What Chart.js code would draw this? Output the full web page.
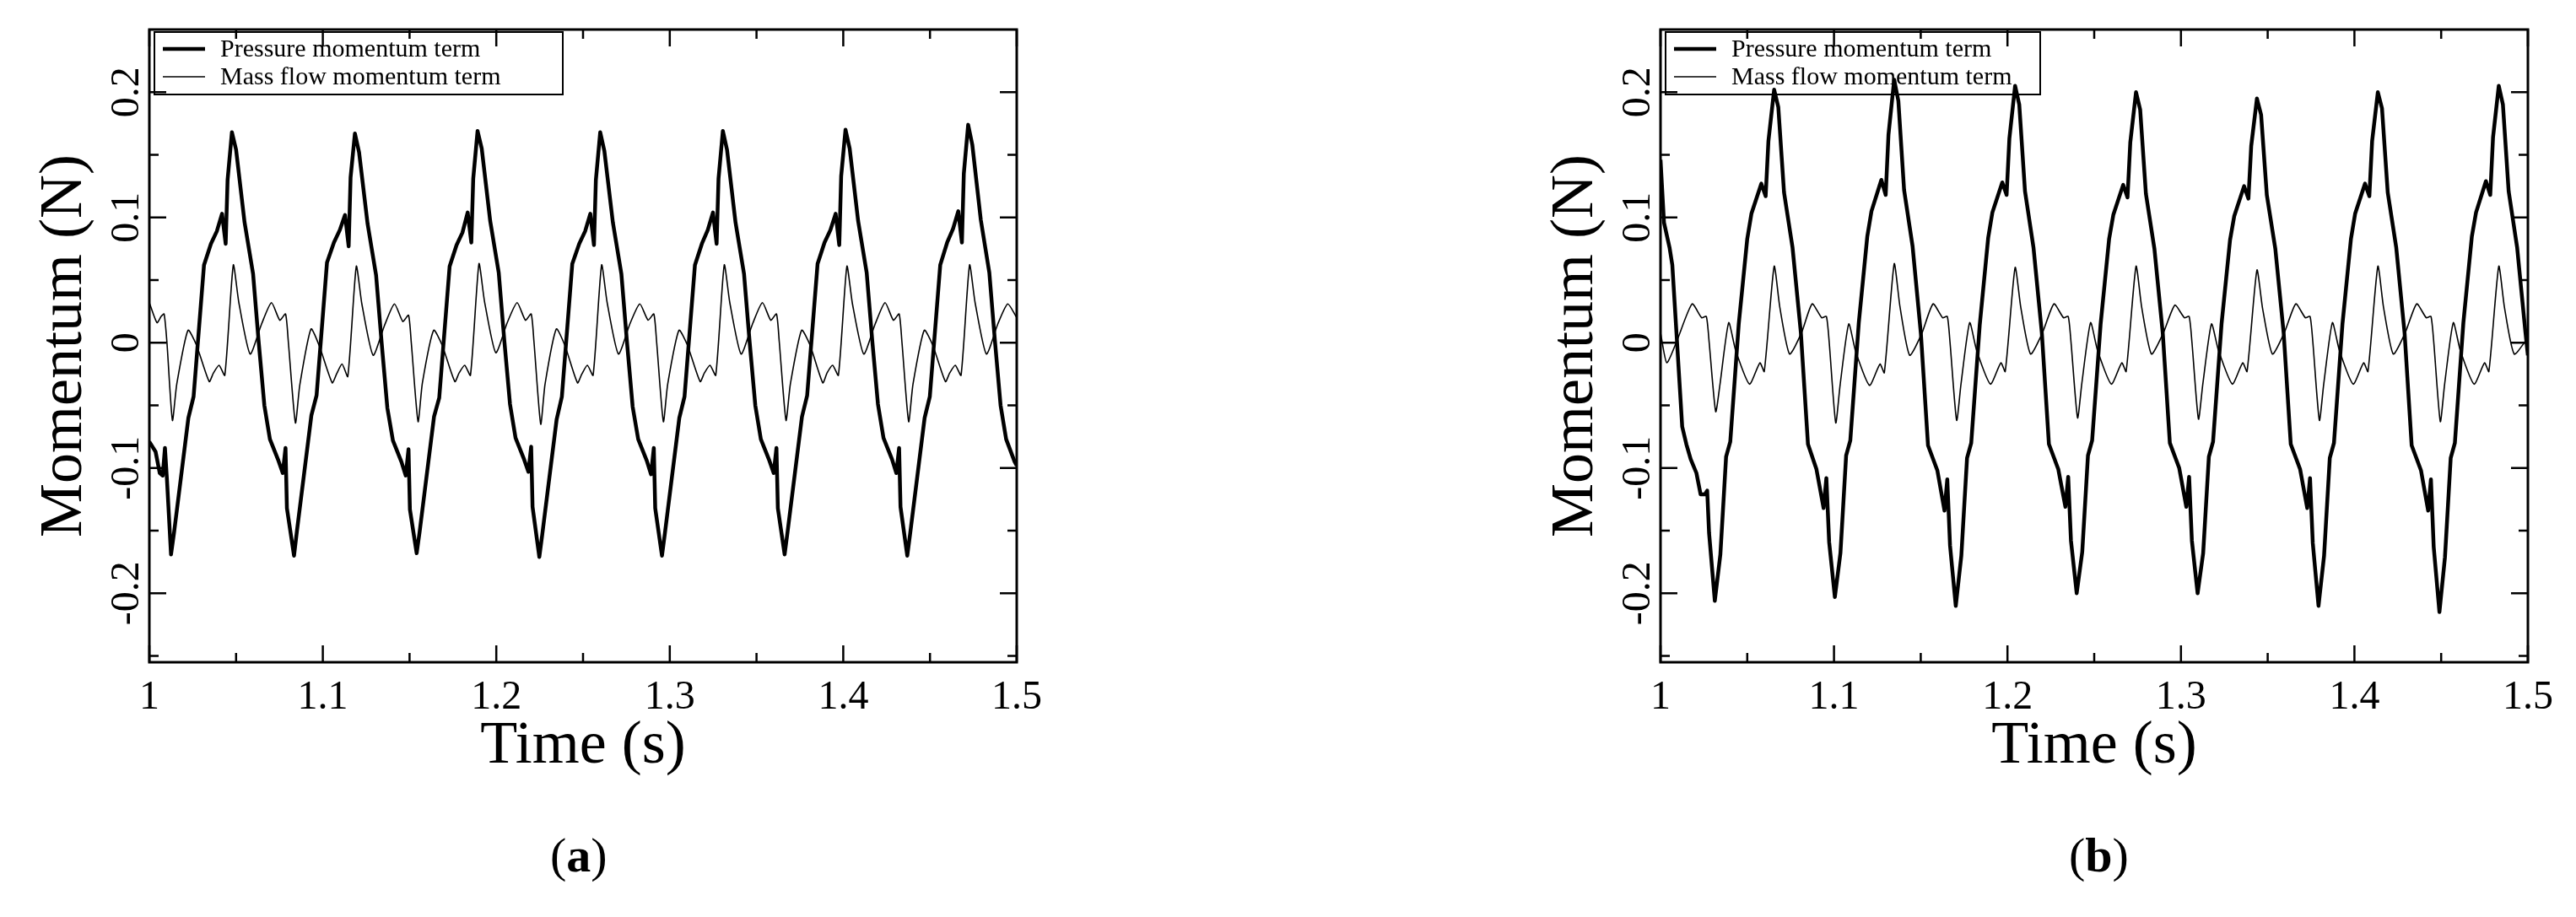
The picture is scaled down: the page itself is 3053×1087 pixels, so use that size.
<!DOCTYPE html>
<html>
<head>
<meta charset="utf-8">
<script src="https://cdn.jsdelivr.net/npm/chart.js@4.4.1/dist/chart.umd.min.js"></script>
<style>
  html, body { margin: 0; padding: 0; background: #fff; }
  body { width: 3053px; height: 1087px; position: relative; overflow: hidden; }
  .panel { position: absolute; top: 0; width: 1520px; height: 960px; }
  #panel-a { left: 0; }
  #panel-b { left: 1791px; }
  .caption { position: absolute; top: 980px; font: 58px "Liberation Serif", "DejaVu Serif", serif; color: #000; }
</style>
</head>
<body>
<div class="panel" id="panel-a"><canvas id="chart-a"></canvas></div>
<div class="panel" id="panel-b"><canvas id="chart-b"></canvas></div>
<div class="caption" style="left:652px">(<b>a</b>)</div>
<div class="caption" style="left:2452px">(<b>b</b>)</div>
<script>
// axis ticks
const xTicks = [1, 1.1, 1.2, 1.3, 1.4, 1.5];
const xTickLabels = ['1', '1.1', '1.2', '1.3', '1.4', '1.5'];
const yTicks = [-0.2, -0.1, 0, 0.1, 0.2];
const yTickLabels = ['-0.2', '-0.1', '0', '0.1', '0.2'];
const seriesNames = ['Pressure momentum term', 'Mass flow momentum term'];

// (a) pressure momentum term [time s, N]
const pressureA = [
  [1.0000,-0.079],[1.0036,-0.087],[1.0060,-0.104],[1.0077,-0.106],[1.0090,-0.084],[1.0101,-0.108],
  [1.0125,-0.169],[1.0142,-0.152],[1.0225,-0.060],[1.0255,-0.043],[1.0315,0.062],[1.0355,0.079],[1.0389,0.089],[1.0419,0.103],[1.0440,0.079],[1.0451,0.130],[1.0476,0.168],[1.0500,0.154],[1.0549,0.096],[1.0598,0.055],[1.0630,0.001],[1.0663,-0.050],[1.0695,-0.077],[1.0744,-0.094],[1.0769,-0.104],[1.0785,-0.084],[1.0793,-0.132],
  [1.0834,-0.170],[1.0851,-0.150],[1.0934,-0.058],[1.0964,-0.042],[1.1024,0.064],[1.1064,0.080],[1.1098,0.090],[1.1128,0.102],[1.1149,0.077],[1.1160,0.132],[1.1185,0.167],[1.1209,0.152],[1.1258,0.095],[1.1307,0.054],[1.1339,0.000],[1.1372,-0.052],[1.1404,-0.078],[1.1453,-0.095],[1.1478,-0.106],[1.1494,-0.085],[1.1502,-0.133],
  [1.1541,-0.168],[1.1558,-0.151],[1.1641,-0.059],[1.1671,-0.044],[1.1731,0.061],[1.1771,0.078],[1.1805,0.088],[1.1835,0.104],[1.1856,0.080],[1.1867,0.131],[1.1892,0.169],[1.1916,0.155],[1.1965,0.097],[1.2014,0.056],[1.2046,0.002],[1.2079,-0.049],[1.2111,-0.076],[1.2160,-0.093],[1.2185,-0.103],[1.2201,-0.083],[1.2209,-0.131],
  [1.2248,-0.171],[1.2265,-0.153],[1.2348,-0.061],[1.2378,-0.043],[1.2438,0.063],[1.2478,0.079],[1.2512,0.089],[1.2542,0.103],[1.2563,0.078],[1.2574,0.130],[1.2599,0.168],[1.2623,0.153],[1.2672,0.096],[1.2721,0.055],[1.2753,0.001],[1.2786,-0.051],[1.2818,-0.077],[1.2867,-0.094],[1.2892,-0.105],[1.2908,-0.084],[1.2916,-0.132],
  [1.2955,-0.170],[1.2972,-0.152],[1.3055,-0.060],[1.3085,-0.043],[1.3145,0.062],[1.3185,0.079],[1.3219,0.090],[1.3249,0.104],[1.3270,0.079],[1.3281,0.131],[1.3306,0.169],[1.3330,0.154],[1.3379,0.096],[1.3428,0.055],[1.3460,0.001],[1.3493,-0.050],[1.3525,-0.077],[1.3574,-0.094],[1.3599,-0.104],[1.3615,-0.084],[1.3623,-0.132],
  [1.3662,-0.169],[1.3679,-0.151],[1.3762,-0.059],[1.3792,-0.042],[1.3852,0.063],[1.3892,0.080],[1.3926,0.090],[1.3956,0.103],[1.3977,0.078],[1.3988,0.133],[1.4013,0.170],[1.4037,0.155],[1.4086,0.097],[1.4135,0.056],[1.4167,0.002],[1.4200,-0.049],[1.4232,-0.076],[1.4281,-0.093],[1.4306,-0.104],[1.4322,-0.084],[1.4330,-0.131],
  [1.4369,-0.170],[1.4386,-0.152],[1.4469,-0.060],[1.4499,-0.043],[1.4559,0.062],[1.4599,0.080],[1.4633,0.091],[1.4663,0.105],[1.4684,0.080],[1.4695,0.135],[1.4720,0.174],[1.4744,0.158],[1.4793,0.098],[1.4842,0.056],[1.4874,0.002],[1.4907,-0.050],[1.4939,-0.077],[1.4988,-0.095],[1.5000,-0.098]
];

// (a) mass flow momentum term
const massFlowA = [
  [1.0000,0.032],[1.0044,0.016],[1.0068,0.021],[1.0085,0.023],[1.0101,0.001],
  [1.0133,-0.062],[1.0158,-0.033],[1.0223,0.010],[1.0272,-0.002],[1.0345,-0.031],[1.0370,-0.024],[1.0402,-0.018],[1.0435,-0.026],[1.0484,0.062],[1.0516,0.032],[1.0581,-0.009],[1.0647,0.015],[1.0704,0.032],[1.0752,0.018],[1.0785,0.023],[1.0801,0.001],
  [1.0842,-0.064],[1.0867,-0.034],[1.0932,0.011],[1.0981,-0.003],[1.1054,-0.032],[1.1079,-0.025],[1.1111,-0.017],[1.1144,-0.027],[1.1193,0.061],[1.1225,0.031],[1.1290,-0.010],[1.1356,0.014],[1.1413,0.031],[1.1461,0.017],[1.1494,0.022],[1.1510,0.000],
  [1.1549,-0.063],[1.1574,-0.032],[1.1639,0.010],[1.1688,-0.002],[1.1761,-0.031],[1.1786,-0.024],[1.1818,-0.018],[1.1851,-0.026],[1.1900,0.063],[1.1932,0.033],[1.1997,-0.008],[1.2063,0.016],[1.2120,0.032],[1.2168,0.018],[1.2201,0.023],[1.2217,0.001],
  [1.2256,-0.065],[1.2281,-0.033],[1.2346,0.011],[1.2395,-0.002],[1.2468,-0.032],[1.2493,-0.025],[1.2525,-0.018],[1.2558,-0.026],[1.2607,0.062],[1.2639,0.032],[1.2704,-0.009],[1.2770,0.015],[1.2827,0.031],[1.2875,0.018],[1.2908,0.023],[1.2924,0.001],
  [1.2963,-0.063],[1.2988,-0.033],[1.3053,0.010],[1.3102,-0.002],[1.3175,-0.031],[1.3200,-0.024],[1.3232,-0.018],[1.3265,-0.026],[1.3314,0.062],[1.3346,0.032],[1.3411,-0.009],[1.3477,0.015],[1.3534,0.032],[1.3582,0.018],[1.3615,0.023],[1.3631,0.001],
  [1.3670,-0.062],[1.3695,-0.033],[1.3760,0.010],[1.3809,-0.002],[1.3882,-0.032],[1.3907,-0.024],[1.3939,-0.018],[1.3972,-0.026],[1.4021,0.061],[1.4053,0.031],[1.4118,-0.009],[1.4184,0.015],[1.4241,0.032],[1.4289,0.018],[1.4322,0.023],[1.4338,0.001],
  [1.4377,-0.063],[1.4402,-0.033],[1.4467,0.010],[1.4516,-0.002],[1.4589,-0.031],[1.4614,-0.024],[1.4646,-0.018],[1.4679,-0.026],[1.4728,0.062],[1.4760,0.032],[1.4825,-0.009],[1.4891,0.015],[1.4948,0.031],[1.5000,0.020]
];

// (b) pressure momentum term
const pressureB = [
  [1.0000,0.146],[1.0020,0.096],[1.0052,0.076],[1.0068,0.062],[1.0125,-0.067],[1.0149,-0.081],[1.0174,-0.093],[1.0207,-0.104],[1.0231,-0.121],[1.0256,-0.121],[1.0269,-0.118],[1.0280,-0.152],
  [1.0313,-0.206],[1.0345,-0.169],[1.0378,-0.091],[1.0402,-0.079],[1.0451,0.015],[1.0500,0.083],[1.0524,0.103],[1.0581,0.127],[1.0606,0.117],[1.0622,0.161],[1.0655,0.202],[1.0679,0.188],[1.0712,0.120],[1.0761,0.076],[1.0809,0.008],[1.0850,-0.081],[1.0899,-0.101],[1.0940,-0.132],[1.0956,-0.108],[1.0972,-0.159],
  [1.1005,-0.203],[1.1037,-0.168],[1.1070,-0.090],[1.1094,-0.078],[1.1143,0.016],[1.1192,0.085],[1.1216,0.105],[1.1273,0.130],[1.1298,0.118],[1.1314,0.166],[1.1347,0.210],[1.1371,0.193],[1.1404,0.122],[1.1453,0.077],[1.1501,0.007],[1.1542,-0.082],[1.1596,-0.102],[1.1637,-0.134],[1.1653,-0.109],[1.1669,-0.162],
  [1.1702,-0.210],[1.1734,-0.170],[1.1767,-0.092],[1.1791,-0.080],[1.1840,0.014],[1.1889,0.084],[1.1913,0.104],[1.1970,0.128],[1.1995,0.118],[1.2011,0.163],[1.2044,0.205],[1.2068,0.190],[1.2101,0.121],[1.2150,0.076],[1.2198,0.008],[1.2239,-0.081],[1.2293,-0.101],[1.2334,-0.131],[1.2350,-0.107],[1.2366,-0.158],
  [1.2399,-0.200],[1.2431,-0.167],[1.2464,-0.090],[1.2488,-0.078],[1.2537,0.015],[1.2586,0.083],[1.2610,0.102],[1.2667,0.126],[1.2692,0.116],[1.2708,0.160],[1.2741,0.200],[1.2765,0.186],[1.2798,0.119],[1.2847,0.075],[1.2895,0.008],[1.2936,-0.080],[1.2990,-0.100],[1.3031,-0.131],[1.3047,-0.107],[1.3063,-0.158],
  [1.3096,-0.200],[1.3128,-0.168],[1.3161,-0.091],[1.3185,-0.079],[1.3234,0.015],[1.3283,0.082],[1.3307,0.101],[1.3364,0.125],[1.3389,0.115],[1.3405,0.157],[1.3438,0.195],[1.3462,0.182],[1.3495,0.118],[1.3544,0.075],[1.3592,0.008],[1.3633,-0.081],[1.3687,-0.101],[1.3728,-0.132],[1.3744,-0.108],[1.3760,-0.160],
  [1.3793,-0.210],[1.3825,-0.170],[1.3858,-0.092],[1.3882,-0.080],[1.3931,0.015],[1.3980,0.083],[1.4004,0.103],[1.4061,0.127],[1.4086,0.117],[1.4102,0.161],[1.4135,0.200],[1.4159,0.187],[1.4192,0.120],[1.4241,0.076],[1.4289,0.008],[1.4330,-0.082],[1.4384,-0.102],[1.4425,-0.134],[1.4441,-0.109],[1.4457,-0.163],
  [1.4490,-0.215],[1.4522,-0.171],[1.4555,-0.092],[1.4579,-0.080],[1.4628,0.016],[1.4677,0.085],[1.4701,0.104],[1.4758,0.129],[1.4783,0.118],[1.4799,0.164],[1.4832,0.205],[1.4856,0.190],[1.4889,0.121],[1.4938,0.076],[1.4986,0.008],[1.5000,-0.010]
];

// (b) mass flow momentum term
const massFlowB = [
  [1.0000,0.008],[1.0036,-0.016],[1.0093,0.001],[1.0182,0.031],[1.0237,0.020],[1.0264,0.021],[1.0280,0.001],
  [1.0318,-0.055],[1.0343,-0.033],[1.0393,0.016],[1.0433,-0.006],[1.0513,-0.033],[1.0573,-0.016],[1.0598,-0.023],[1.0655,0.061],[1.0688,0.028],[1.0744,-0.009],[1.0813,0.008],[1.0874,0.031],[1.0929,0.020],[1.0956,0.021],[1.0972,0.001],
  [1.1010,-0.064],[1.1035,-0.034],[1.1085,0.015],[1.1125,-0.007],[1.1205,-0.034],[1.1265,-0.017],[1.1290,-0.024],[1.1347,0.063],[1.1380,0.029],[1.1436,-0.010],[1.1505,0.007],[1.1571,0.031],[1.1626,0.020],[1.1653,0.021],[1.1669,0.000],
  [1.1707,-0.062],[1.1732,-0.033],[1.1782,0.016],[1.1822,-0.006],[1.1902,-0.033],[1.1962,-0.016],[1.1987,-0.023],[1.2044,0.060],[1.2077,0.028],[1.2133,-0.009],[1.2202,0.008],[1.2268,0.031],[1.2323,0.020],[1.2350,0.021],[1.2366,0.001],
  [1.2404,-0.060],[1.2429,-0.032],[1.2479,0.016],[1.2519,-0.006],[1.2599,-0.033],[1.2659,-0.016],[1.2684,-0.023],[1.2741,0.061],[1.2774,0.028],[1.2830,-0.009],[1.2899,0.008],[1.2965,0.030],[1.3020,0.020],[1.3047,0.021],[1.3063,0.001],
  [1.3101,-0.061],[1.3126,-0.033],[1.3176,0.015],[1.3216,-0.006],[1.3296,-0.033],[1.3356,-0.016],[1.3381,-0.023],[1.3438,0.058],[1.3471,0.027],[1.3527,-0.009],[1.3596,0.008],[1.3662,0.031],[1.3717,0.020],[1.3744,0.021],[1.3760,0.001],
  [1.3798,-0.062],[1.3823,-0.033],[1.3873,0.016],[1.3913,-0.006],[1.3993,-0.033],[1.4053,-0.016],[1.4078,-0.023],[1.4135,0.061],[1.4168,0.028],[1.4224,-0.009],[1.4293,0.008],[1.4359,0.031],[1.4414,0.020],[1.4441,0.021],[1.4457,0.001],
  [1.4495,-0.063],[1.4520,-0.033],[1.4570,0.016],[1.4610,-0.006],[1.4690,-0.033],[1.4750,-0.016],[1.4775,-0.023],[1.4832,0.061],[1.4865,0.028],[1.4921,-0.009],[1.5000,0.004]
];

const SERIF = '"Liberation Serif", "DejaVu Serif", serif';

// frame, inward ticks, tick labels, axis titles and legend box
const frameAxes = {
    id: 'frameAxes',
    afterDraw(chart, args, opts) {
        const { ctx, chartArea: a, scales: { x, y } } = chart;
        ctx.save();
        ctx.strokeStyle = '#000';
        ctx.fillStyle = '#000';
        ctx.lineWidth = 3;
        ctx.strokeRect(a.left, a.top, a.right - a.left, a.bottom - a.top);

        ctx.lineWidth = 2.5;
        ctx.beginPath();
        for (let v = 1; v <= 1.5001; v += 0.05) {
            const px = x.getPixelForValue(v);
            const len = Math.round(v * 100) % 10 === 0 ? 20 : 11;
            ctx.moveTo(px, a.bottom); ctx.lineTo(px, a.bottom - len);
            ctx.moveTo(px, a.top); ctx.lineTo(px, a.top + len);
        }
        for (let v = -0.25; v <= 0.2501; v += 0.05) {
            const py = y.getPixelForValue(v);
            if (py < a.top + 2 || py > a.bottom - 2) continue;
            const len = Math.round(v * 100) % 10 === 0 ? 20 : 11;
            ctx.moveTo(a.left, py); ctx.lineTo(a.left + len, py);
            ctx.moveTo(a.right, py); ctx.lineTo(a.right - len, py);
        }
        ctx.stroke();

        ctx.font = '48px ' + SERIF;
        ctx.textAlign = 'center';
        ctx.textBaseline = 'middle';
        xTicks.forEach((v, i) => ctx.fillText(xTickLabels[i], x.getPixelForValue(v), a.bottom + 42));
        yTicks.forEach((v, i) => {
            ctx.save();
            ctx.translate(a.left - 26, y.getPixelForValue(v));
            ctx.rotate(-Math.PI / 2);
            ctx.fillText(yTickLabels[i], 0, 0);
            ctx.restore();
        });

        ctx.font = '72px ' + SERIF;
        ctx.fillText('Time (s)', (a.left + a.right) / 2, a.bottom + 100);
        ctx.save();
        ctx.translate(a.left - 100, (a.top + a.bottom) / 2);
        ctx.rotate(-Math.PI / 2);
        ctx.fillText('Momentum (N)', 0, 0);
        ctx.restore();

        // legend
        const lx = a.left + 6, ly = a.top + 3;
        ctx.lineWidth = 2;
        ctx.strokeRect(lx, ly, opts.legendWidth, 74);
        ctx.font = '30px ' + SERIF;
        ctx.textAlign = 'left';
        [4.5, 1.5].forEach((w, i) => {
            const yy = ly + 20 + i * 33;
            ctx.lineWidth = w;
            ctx.beginPath();
            ctx.moveTo(lx + 10, yy); ctx.lineTo(lx + 60, yy);
            ctx.stroke();
            ctx.fillText(seriesNames[i], lx + 78, yy + 1);
        });
        ctx.restore();
    }
};

function makeChart(id, pressure, massFlow, legendWidth) {
    const toPts = arr => arr.map(p => ({ x: p[0], y: p[1] }));
    return new Chart(document.getElementById(id), {
        type: 'line',
        data: {
            datasets: [
                { label: seriesNames[0], data: toPts(pressure), borderColor: '#000', borderWidth: 4.5, pointRadius: 0, tension: 0, borderJoinStyle: 'round' },
                { label: seriesNames[1], data: toPts(massFlow), borderColor: '#000', borderWidth: 1.6, pointRadius: 0, tension: 0.2 }
            ]
        },
        options: {
            responsive: true,
            maintainAspectRatio: false,
            animation: false,
            layout: { padding: { left: 177, top: 35, right: 1520 - 1205, bottom: 960 - 785 } },
            plugins: {
                legend: { display: false },
                tooltip: { enabled: false },
                frameAxes: { legendWidth }
            },
            scales: {
                x: { type: 'linear', min: 1, max: 1.5, display: false },
                y: { type: 'linear', min: -0.255, max: 0.25, display: false }
            }
        },
        plugins: [frameAxes]
    });
}

makeChart('chart-a', pressureA, massFlowA, 484);
makeChart('chart-b', pressureB, massFlowB, 444);
</script>
</body>
</html>
